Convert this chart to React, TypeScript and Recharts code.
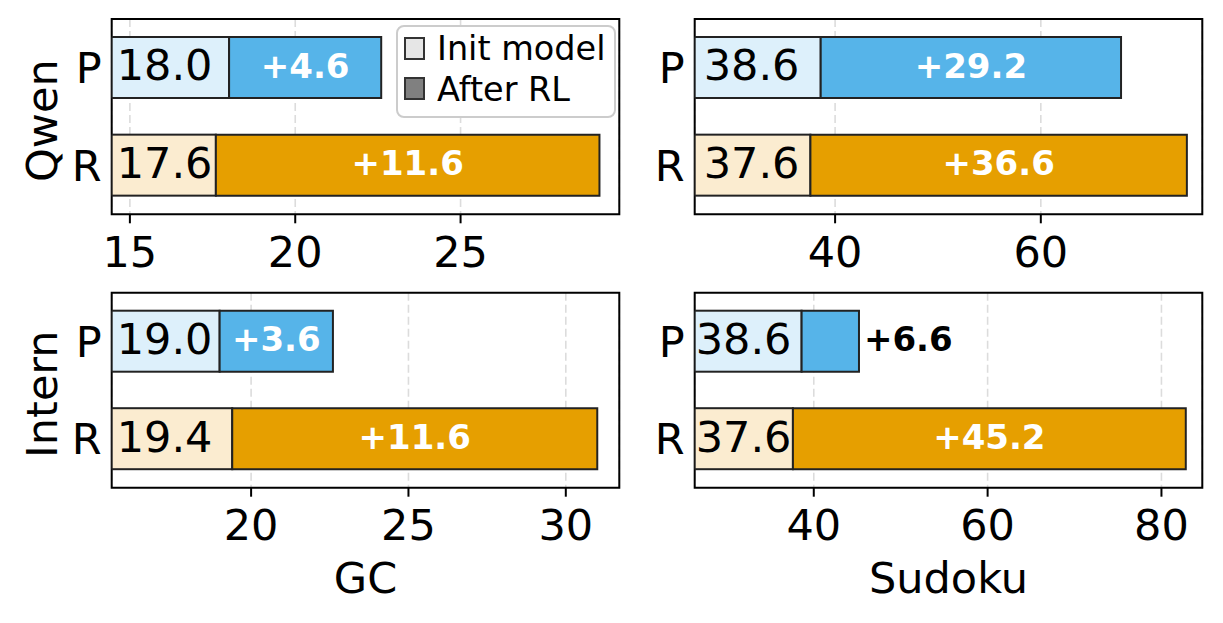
import React from "react";
import {
  BarChart,
  Bar,
  XAxis,
  YAxis,
  CartesianGrid,
  ReferenceArea,
  LabelList,
  Cell,
  Legend,
} from "recharts";

const W = 1223;
const H = 623;
const AX = 40;

const rows = ["P", "R"];
const seriesNames = ["Init model", "After RL"];

const qwenGcInit = [18.0, 17.6];
const qwenGcGain = [4.6, 11.6];
const qwenSudokuInit = [38.6, 37.6];
const qwenSudokuGain = [29.2, 36.6];
const internGcInit = [19.0, 19.4];
const internGcGain = [3.6, 11.6];
const internSudokuInit = [38.6, 37.6];
const internSudokuGain = [6.6, 45.2];

const qwenGcTicks = [15, 20, 25];
const qwenSudokuTicks = [40, 60];
const internGcTicks = [20, 25, 30];
const internSudokuTicks = [40, 60, 80];

const initColors = ["#ddf0fb", "#fbecd0"];
const gainColors = ["#56b4e9", "#e69f00"];

function InitShape(props: any) {
  const { x, y, width, height, fill, background, payload, pad } = props;
  const left = background ? Math.max(x, background.x) : x;
  const right = x + width;
  return (
    <g>
      <rect
        x={left}
        y={y}
        width={Math.max(0, right - left)}
        height={height}
        fill={fill}
        stroke="#222"
        strokeWidth={2}
      />
      <text x={left + pad} y={y + height / 2} dy="0.3em" fontSize={43} fill="#000">
        {Number(payload.init).toFixed(1)}
      </text>
    </g>
  );
}

function GainLabel(props: any) {
  const { x, y, width, height, value } = props;
  const inside = Number(width) > 80;
  return (
    <text
      x={inside ? Number(x) + Number(width) / 2 : Number(x) + Number(width) + 5}
      y={Number(y) + Number(height) / 2}
      dy="0.3em"
      textAnchor={inside ? "middle" : "start"}
      fontSize={34}
      fontWeight="bold"
      fill={inside ? "#fff" : "#000"}
    >
      {`+${Number(value).toFixed(1)}`}
    </text>
  );
}

function LegendBox(props: any) {
  const items = [...(props.payload || [])].sort(
    (a: any, b: any) => seriesNames.indexOf(a.value) - seriesNames.indexOf(b.value)
  );
  return (
    <svg width={222} height={94} style={{ display: "block" }}>
      <rect x={1} y={1} width={218} height={91} rx={7} fill="#fff" stroke="#cccccc" strokeWidth={2} />
      {items.map((p: any, i: number) => (
        <g key={p.value}>
          <rect x={9} y={13 + i * 40} width={19} height={21} fill={p.color} stroke="#333" strokeWidth={2} />
          <text x={41} y={35 + i * 41} fontSize={33.5} fill="#000">
            {p.value}
          </text>
        </g>
      ))}
    </svg>
  );
}

type Box = { left: number; top: number; right: number; bottom: number };

function Panel(props: {
  init: number[];
  gain: number[];
  ticks: number[];
  domain: [number, number];
  box: Box;
  pad: number;
  model?: string;
  metric?: string;
  legend?: boolean;
}) {
  const { init, gain, ticks, domain, box, pad, model, metric, legend } = props;
  const data = rows.map((row, i) => ({ row, init: init[i], gain: gain[i] }));

  const modelLabel = (p: any) => {
    const vb = p.viewBox;
    const x = vb.x + vb.width - 55;
    const y = vb.y + vb.height / 2 + 4;
    return (
      <text x={x} y={y} transform={`rotate(-90 ${x} ${y})`} textAnchor="middle" fontSize={43} fill="#000">
        {model}
      </text>
    );
  };

  const metricLabel = (p: any) => {
    const vb = p.viewBox;
    return (
      <text x={vb.x + vb.width / 2} y={vb.y + 105} textAnchor="middle" fontSize={43} fill="#000">
        {metric}
      </text>
    );
  };

  return (
    <div style={{ position: "absolute", left: 0, top: 0 }}>
      <BarChart
        width={W}
        height={H}
        data={data}
        layout="vertical"
        barSize={61}
        margin={{
          top: box.top,
          left: box.left - AX,
          right: W - box.right,
          bottom: H - box.bottom - AX,
        }}
      >
        <CartesianGrid horizontal={false} stroke="#dcdcdc" strokeWidth={1.6} strokeDasharray="8 4" />
        <XAxis
          type="number"
          domain={domain}
          allowDataOverflow
          ticks={ticks}
          interval={0}
          height={AX}
          stroke="#000"
          axisLine={false}
          tickSize={9}
          tickMargin={13}
          tickLine={{ stroke: "#000", strokeWidth: 2 }}
          tick={{ fontSize: 43, fill: "#000" }}
          label={metric ? metricLabel : undefined}
        />
        <YAxis
          type="category"
          dataKey="row"
          width={AX}
          axisLine={false}
          tickLine={false}
          tickSize={0}
          tickMargin={10}
          tick={{ fontSize: 43, fill: "#000" }}
          label={model ? modelLabel : undefined}
        />
        <Bar
          dataKey="init"
          name={seriesNames[0]}
          stackId="a"
          fill="#e6e6e6"
          isAnimationActive={false}
          shape={(p: any) => <InitShape {...p} pad={pad} />}
        >
          {data.map((d, i) => (
            <Cell key={d.row} fill={initColors[i]} />
          ))}
        </Bar>
        <Bar
          dataKey="gain"
          name={seriesNames[1]}
          stackId="a"
          fill="#808080"
          stroke="#222"
          strokeWidth={2}
          isAnimationActive={false}
        >
          {data.map((d, i) => (
            <Cell key={d.row} fill={gainColors[i]} />
          ))}
          <LabelList dataKey="gain" content={GainLabel} />
        </Bar>
        <ReferenceArea
          x1={domain[0]}
          x2={domain[1]}
          fill="none"
          stroke="#000"
          strokeWidth={2}
          ifOverflow="visible"
        />
        {legend && (
          <Legend
            layout="vertical"
            align="center"
            verticalAlign="middle"
            wrapperStyle={{ left: 396, top: 25, width: 222 }}
            content={LegendBox}
          />
        )}
      </BarChart>
    </div>
  );
}

export default function App() {
  return (
    <div
      style={{
        position: "absolute",
        left: 0,
        top: 0,
        width: W,
        height: H,
        background: "#fff",
        fontFamily: "DejaVu Sans",
      }}
    >
      <Panel
        init={qwenGcInit}
        gain={qwenGcGain}
        ticks={qwenGcTicks}
        domain={[14.45, 29.8]}
        box={{ left: 111.7, top: 19, right: 619.3, bottom: 214.3 }}
        pad={5}
        model="Qwen"
        legend
      />
      <Panel
        init={qwenSudokuInit}
        gain={qwenSudokuGain}
        ticks={qwenSudokuTicks}
        domain={[26.35, 75.7]}
        box={{ left: 694.7, top: 19, right: 1202.3, bottom: 214.3 }}
        pad={9}
      />
      <Panel
        init={internGcInit}
        gain={internGcGain}
        ticks={internGcTicks}
        domain={[15.57, 31.7]}
        box={{ left: 111.7, top: 292.7, right: 619.3, bottom: 487.7 }}
        pad={5}
        model="Intern"
        metric="GC"
      />
      <Panel
        init={internSudokuInit}
        gain={internSudokuGain}
        ticks={internSudokuTicks}
        domain={[26.3, 84.7]}
        box={{ left: 694.7, top: 292.7, right: 1202.3, bottom: 487.7 }}
        pad={1}
        metric="Sudoku"
      />
    </div>
  );
}
